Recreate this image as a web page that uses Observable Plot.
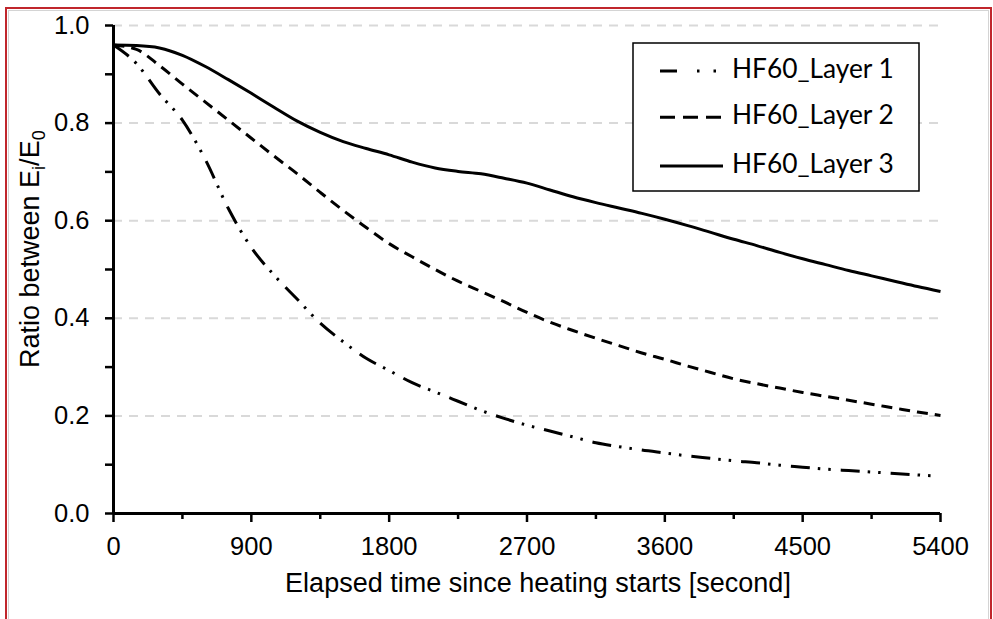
<!DOCTYPE html>
<html>
<head>
<meta charset="utf-8">
<script src="https://cdn.jsdelivr.net/npm/d3@7"></script>
<script src="https://cdn.jsdelivr.net/npm/@observablehq/plot@0.6"></script>
<style>
  body { margin: 0; background: #fff; }
  #wrap { position: relative; width: 993px; height: 619px; overflow: hidden; background: #fff; }
  #frame { position: absolute; left: 5px; top: 7px; width: 987px; height: 700px;
           border: 2px solid #c0262c; border-bottom: none; box-sizing: border-box; pointer-events: none; }
  #frame::after { content: ""; position: absolute; left: 1px; top: 1px; right: 1px; bottom: 0;
                  border: 1px solid #d4d4d4; border-bottom: none; }
  #wrap svg { position: absolute; left: 0; top: 0; }
</style>
</head>
<body>
<div id="wrap"></div>
<script>
// Elapsed time (s) at which each ratio was recorded
const times = [0, 150, 300, 450, 600, 750, 900, 1050, 1200, 1350, 1500, 1650, 1800, 1950,
  2100, 2250, 2400, 2550, 2700, 2850, 3000, 3150, 3300, 3450, 3600, 3750, 3900, 4050,
  4200, 4350, 4500, 4650, 4800, 4950, 5100, 5250, 5400];

// Ratio Ei/E0 for each layer
const layer1 = [0.960, 0.922, 0.860, 0.806, 0.725, 0.625, 0.545, 0.488, 0.439, 0.390, 0.352,
  0.318, 0.293, 0.268, 0.249, 0.230, 0.211, 0.195, 0.181, 0.169, 0.157, 0.145, 0.137, 0.130,
  0.124, 0.118, 0.113, 0.108, 0.104, 0.099, 0.095, 0.091, 0.088, 0.085, 0.082, 0.079, 0.076];
const layer2 = [0.960, 0.951, 0.918, 0.880, 0.843, 0.806, 0.769, 0.732, 0.696, 0.658, 0.621,
  0.586, 0.553, 0.526, 0.500, 0.476, 0.455, 0.434, 0.412, 0.392, 0.375, 0.359, 0.344, 0.329,
  0.316, 0.302, 0.289, 0.276, 0.266, 0.257, 0.248, 0.240, 0.232, 0.224, 0.216, 0.208, 0.201];
const layer3 = [0.960, 0.959, 0.954, 0.939, 0.916, 0.889, 0.861, 0.832, 0.804, 0.781, 0.762,
  0.748, 0.735, 0.720, 0.708, 0.701, 0.696, 0.687, 0.677, 0.663, 0.649, 0.637, 0.626, 0.615,
  0.603, 0.590, 0.576, 0.562, 0.549, 0.535, 0.522, 0.510, 0.498, 0.487, 0.476, 0.465, 0.455];

const seriesNames = ["HF60_Layer 1", "HF60_Layer 2", "HF60_Layer 3"];
const seriesDash = ["19,8,2.5,8,2.5,10", "11,7", null];
const legendDash = ["17,20,2.5,14,2.5,40", "15,8", null];

// Axis ticks and grid
const xTicks = [0, 900, 1800, 2700, 3600, 4500, 5400];
const xMinorTicks = [450, 1350, 2250, 3150, 4050, 4950];
const yTicks = [0, 0.2, 0.4, 0.6, 0.8, 1.0];
const yMinorTicks = [0.1, 0.3, 0.5, 0.7, 0.9];
const gridValues = [0.2, 0.4, 0.6, 0.8, 1.0];

const xTitle = "Elapsed time since heating starts [second]";

const seriesValues = [layer1, layer2, layer3];
const seriesRows = seriesValues.map((vals, i) =>
  times.map((t, j) => ({series: seriesNames[i], t, v: vals[j]})));

const font = "'Liberation Sans', Arial, sans-serif";

const chart = Plot.plot({
  width: 993,
  height: 619,
  marginLeft: 113,
  marginRight: 53,
  marginTop: 25,
  marginBottom: 106,
  x: {domain: [0, 5400]},
  y: {domain: [0, 1]},
  style: {fontFamily: font, fontSize: "25px", color: "#000", background: "transparent", overflow: "visible"},
  marks: [
    Plot.ruleY(gridValues, {stroke: "#d9d9d9", strokeWidth: 2, strokeDasharray: "9,7"}),
    ...seriesRows.map((rows, i) => Plot.line(rows, {
      x: "t", y: "v", curve: "monotone-x", stroke: "#000", strokeWidth: 3,
      strokeLinecap: "butt", strokeDasharray: seriesDash[i]
    })),
    Plot.axisX(xMinorTicks, {tickSize: 6, strokeWidth: 2.5, tickFormat: () => "", label: null}),
    Plot.axisX(xTicks, {tickSize: 9, strokeWidth: 2.5, tickPadding: 14, tickFormat: "d", label: null, fontSize: 25.5}),
    Plot.axisY(yMinorTicks, {tickSize: 8, strokeWidth: 2.5, tickFormat: () => "", label: null}),
    Plot.axisY(yTicks, {tickSize: 8, strokeWidth: 2.5, tickPadding: 16, tickFormat: ".1f", label: null, fontSize: 25.5}),
    Plot.ruleX([0], {strokeWidth: 3}),
    Plot.ruleY([0], {strokeWidth: 3})
  ]
});

const wrap = document.getElementById("wrap");
wrap.appendChild(chart);

const svg = d3.select(chart);

// x-axis title
svg.append("text")
  .attr("x", 538).attr("y", 592)
  .attr("text-anchor", "middle")
  .attr("font-family", font).attr("font-size", 27).attr("fill", "#000")
  .text(xTitle);

// y-axis title with subscripts
const yt = svg.append("text")
  .attr("transform", "translate(38.5,368) rotate(-90)")
  .attr("text-anchor", "start")
  .attr("font-family", font).attr("font-size", 27).attr("fill", "#000");
yt.append("tspan").text("Ratio between E");
yt.append("tspan").attr("font-size", 18).attr("dy", 6).text("i");
yt.append("tspan").attr("dy", -6).text("/E");
yt.append("tspan").attr("font-size", 18).attr("dy", 6).text("0");

// legend box
const lg = d3.select(wrap).append("svg")
  .attr("width", 288).attr("height", 150)
  .style("left", "632px").style("top", "42px");
lg.append("rect").attr("x", 1).attr("y", 1).attr("width", 286).attr("height", 148)
  .attr("fill", "#fff").attr("stroke", "#000").attr("stroke-width", 1.5);
const rowY = [29, 75.3, 124];
seriesNames.forEach((name, i) => {
  lg.append("line")
    .attr("x1", 28).attr("x2", 91).attr("y1", rowY[i]).attr("y2", rowY[i])
    .attr("stroke", "#000").attr("stroke-width", 3)
    .attr("stroke-dasharray", legendDash[i]);
  lg.append("text")
    .attr("x", 100).attr("y", rowY[i] + 7)
    .attr("font-family", "Lato, 'Open Sans', sans-serif").attr("font-size", 26.3).attr("fill", "#000")
    .text(name);
});

// outer frame
const frame = document.createElement("div");
frame.id = "frame";
wrap.appendChild(frame);
</script>
</body>
</html>
